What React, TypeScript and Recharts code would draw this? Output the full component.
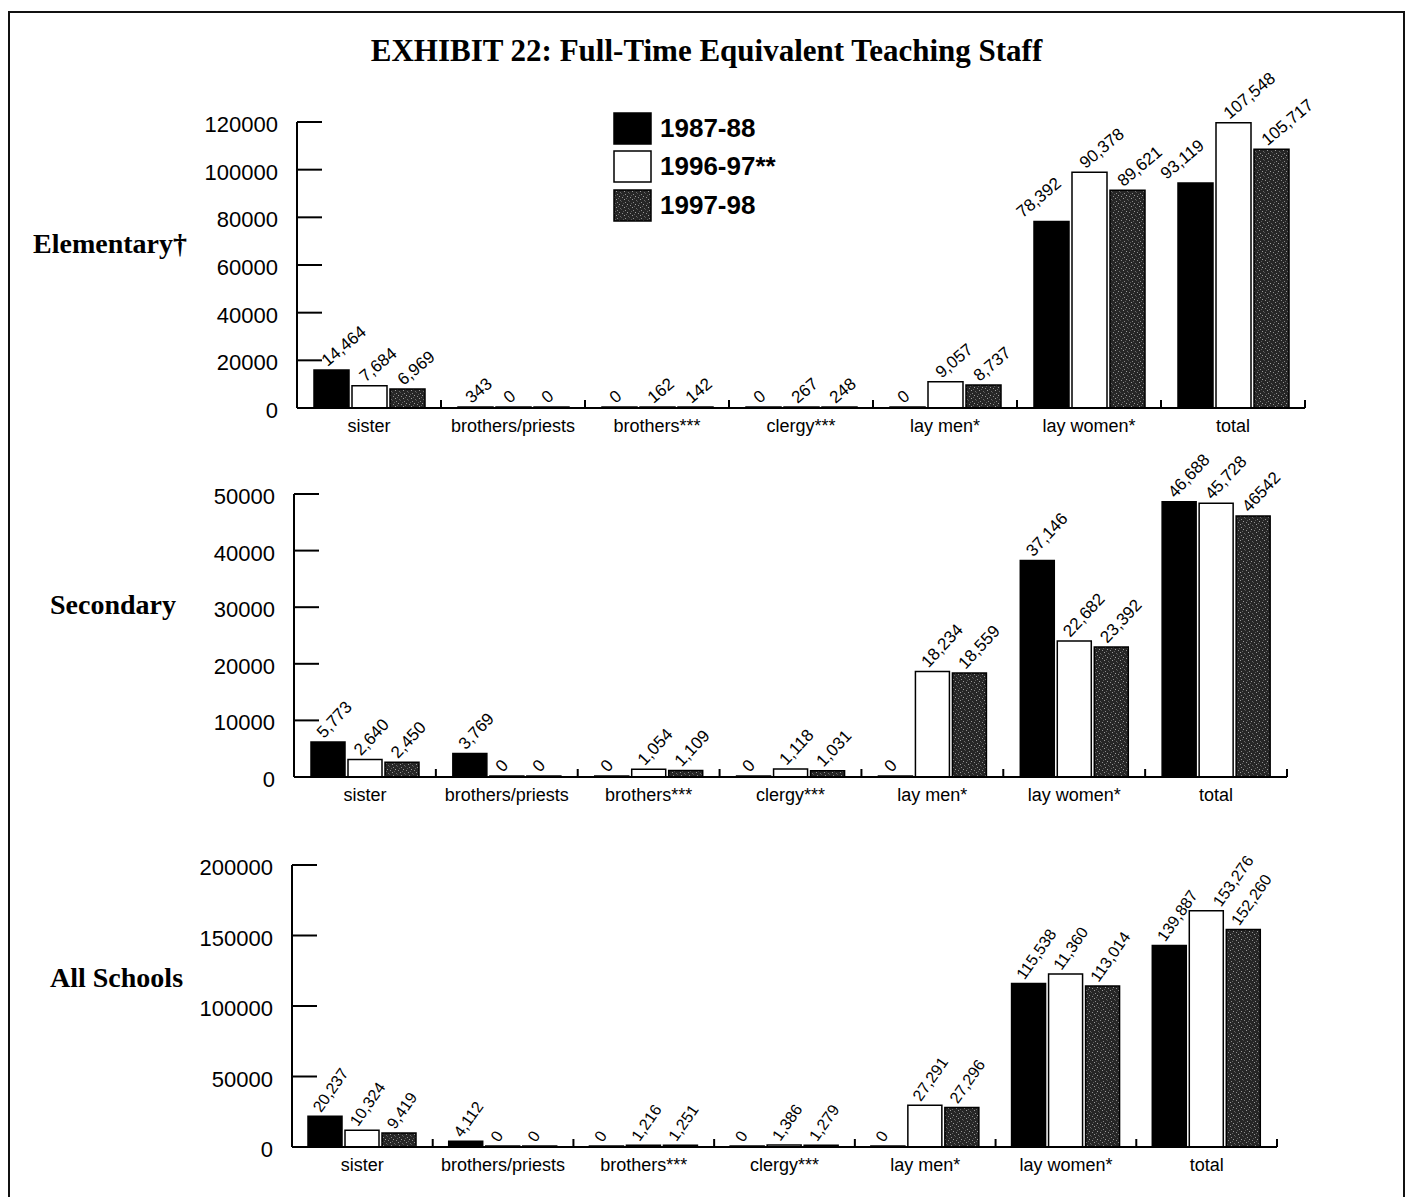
import React from 'react'
import { BarChart, Bar, XAxis, YAxis, LabelList, Legend } from 'recharts'

const CATEGORIES = ['sister', 'brothers/priests', 'brothers***', 'clergy***', 'lay men*', 'lay women*', 'total']
const SERIES = ['1987-88', '1996-97**', '1997-98']

// bar heights as they are drawn in the exhibit
const ELEM_8788 = [15950, 343, 0, 0, 0, 78200, 94400]
const ELEM_9697 = [9360, 0, 162, 267, 11030, 98900, 119700]
const ELEM_9798 = [7970, 0, 142, 248, 9650, 91340, 108540]

// printed value labels
const ELEM_LBL_8788 = ['14,464', '343', '0', '0', '0', '78,392', '93,119']
const ELEM_LBL_9697 = ['7,684', '0', '162', '267', '9,057', '90,378', '107,548']
const ELEM_LBL_9798 = ['6,969', '0', '142', '248', '8,737', '89,621', '105,717']

const SEC_8788 = [6190, 4140, 0, 0, 0, 38270, 48640]
const SEC_9697 = [3080, 0, 1360, 1400, 18640, 24050, 48350]
const SEC_9798 = [2600, 0, 1130, 1100, 18390, 22990, 46110]

const SEC_LBL_8788 = ['5,773', '3,769', '0', '0', '0', '37,146', '46,688']
const SEC_LBL_9697 = ['2,640', '0', '1,054', '1,118', '18,234', '22,682', '45,728']
const SEC_LBL_9798 = ['2,450', '0', '1,109', '1,031', '18,559', '23,392', '46542']

const ALL_8788 = [21850, 4060, 0, 0, 0, 116000, 142850]
const ALL_9697 = [11890, 0, 1216, 1386, 29680, 122700, 167550]
const ALL_9798 = [9960, 0, 1251, 1279, 28040, 114160, 154240]

const ALL_LBL_8788 = ['20,237', '4,112', '0', '0', '0', '115,538', '139,887']
const ALL_LBL_9697 = ['10,324', '0', '1,216', '1,386', '27,291', '11,360', '153,276']
const ALL_LBL_9798 = ['9,419', '0', '1,251', '1,279', '27,296', '113,014', '152,260']

const ELEM_TICKS = [0, 20000, 40000, 60000, 80000, 100000, 120000]
const SEC_TICKS = [0, 10000, 20000, 30000, 40000, 50000]
const ALL_TICKS = [0, 50000, 100000, 150000, 200000]

const SANS = '"Liberation Sans", Arial, Helvetica, sans-serif'
const SERIF = '"Liberation Serif", "Times New Roman", serif'
const FILLS = ['#000000', '#ffffff', 'url(#speckle)']
const BAR_GAP = 3
const GLYPH_H = 12

function buildRows(values: number[][], labels: string[][]) {
  return CATEGORIES.map((cat, i) => ({
    cat,
    v0: values[0][i],
    v1: values[1][i],
    v2: values[2][i],
    l0: labels[0][i],
    l1: labels[1][i],
    l2: labels[2][i],
  }))
}

const elemRows = buildRows([ELEM_8788, ELEM_9697, ELEM_9798], [ELEM_LBL_8788, ELEM_LBL_9697, ELEM_LBL_9798])
const secRows = buildRows([SEC_8788, SEC_9697, SEC_9798], [SEC_LBL_8788, SEC_LBL_9697, SEC_LBL_9798])
const allRows = buildRows([ALL_8788, ALL_9697, ALL_9798], [ALL_LBL_8788, ALL_LBL_9697, ALL_LBL_9798])

function textWidth(s: string, fs: number) {
  let w = 0
  for (const ch of s) w += ch === ',' ? 0.278 : 0.556
  return w * fs
}

// where the slanted label of series s sits, nudged so it clears its neighbours
function placeLabel(s: number, row: any, barX: number, width: number, base: number, k: number, angle: number, fs: number): any {
  const rad = (angle * Math.PI) / 180
  const sin = Math.sin(rad)
  const cos = Math.cos(rad)
  const tan = Math.tan(rad)
  const label = String(row[`l${s}`])
  const L = textWidth(label, fs)
  const top = base - Math.max(row[`v${s}`] * k, 1)
  const ty = top - 3
  let tx = barX + width / 2 - 4
  const ext = L * cos + GLYPH_H * sin

  if (s < 2) {
    const nextTop = base - Math.max(row[`v${s + 1}`] * k, 1)
    const nextLeft = barX + width + BAR_GAP
    const crosses = (t: number) => t + ext > nextLeft && ty - tan * (nextLeft - t) > nextTop - 2
    if (crosses(tx)) {
      const endBefore = nextLeft - ext - 2
      const passAbove = nextLeft - (ty - nextTop + 2) / tan
      const t1 = Math.max(endBefore, barX - 2)
      tx = crosses(t1) ? Math.max(endBefore, passAbove) : t1
    }
  }
  if (s > 0) {
    const prev = placeLabel(s - 1, row, barX - width - BAR_GAP, width, base, k, angle, fs)
    const prevEndY = prev.ty - prev.L * sin
    const prevRight = prev.tx + prev.L * cos + GLYPH_H * sin
    if (prevEndY > ty - GLYPH_H * cos - 6 && prevRight > tx - GLYPH_H * sin - 2) {
      tx = prev.tx + prev.L * cos + 2 * GLYPH_H * sin + 3
    }
  }
  return { tx, ty, L, label }
}

function YTick(props: any) {
  const { x, y, payload } = props
  return (
    <g>
      <line x1={x} x2={x + 25} y1={y} y2={y} stroke="#000" strokeWidth={2} />
      <text x={x - 19} y={y + 10} textAnchor="end" fontSize={22} fontFamily={SANS} fill="#000">
        {payload.value}
      </text>
    </g>
  )
}

function XTick(props: any) {
  const { x, y, payload, band } = props
  const edge = x + band / 2
  return (
    <g>
      <line x1={edge} x2={edge} y1={y} y2={y - 8} stroke="#000" strokeWidth={2} />
      <text x={x} y={y + 24} textAnchor="middle" fontSize={18} fontFamily={SANS} fill="#000">
        {payload.value}
      </text>
    </g>
  )
}

function ValueLabel(props: any) {
  const { series, rows, k, angle, fs } = props
  const vb = props.viewBox ?? {}
  const x = props.x ?? vb.x
  const y = props.y ?? vb.y
  const width = props.width ?? vb.width
  const height = props.height ?? vb.height ?? 0
  const row = rows[props.index]
  if (!row) return null
  const { tx, ty } = placeLabel(series, row, x, width, y + height, k, angle, fs)
  return (
    <text x={tx} y={ty} transform={`rotate(${-angle} ${tx} ${ty})`} fontSize={fs} fontFamily={SANS} fill="#000">
      {String(props.value)}
    </text>
  )
}

function LegendBox(props: any) {
  const items = props.payload ?? []
  return (
    <div>
      {items.map((e: any) => (
        <div key={e.value} style={{ display: 'flex', alignItems: 'center', height: 38.5 }}>
          <svg width={39} height={33} style={{ display: 'block' }}>
            <rect x={1} y={1} width={37} height={31} fill={e.color} stroke="#000" strokeWidth={1.5} />
          </svg>
          <span style={{ marginLeft: 8, font: `bold 26px ${SANS}`, color: '#000', whiteSpace: 'nowrap' }}>
            {e.value}
          </span>
        </div>
      ))}
    </div>
  )
}

interface PanelProps {
  rows: any[]
  max: number
  ticks: number[]
  left: number
  top: number
  width: number
  height: number
  marginTop: number
  barSize: number
  angle: number
  fs: number
  legend?: boolean
}

function Panel({ rows, max, ticks, left, top, width, height, marginTop, barSize, angle, fs, legend }: PanelProps) {
  const yAxisWidth = 97
  const marginRight = 15
  const xAxisHeight = 30
  const marginBottom = 2
  const band = (width - yAxisWidth - marginRight) / CATEGORIES.length
  const plotHeight = height - marginTop - xAxisHeight - marginBottom
  const k = plotHeight / max
  return (
    <div style={{ position: 'absolute', left, top }}>
      <BarChart
        width={width}
        height={height}
        data={rows}
        margin={{ top: marginTop, right: marginRight, bottom: marginBottom, left: 0 }}
        barGap={BAR_GAP}
        style={{ overflow: 'visible' }}
      >
        <XAxis
          dataKey="cat"
          height={xAxisHeight}
          axisLine={{ stroke: '#000', strokeWidth: 2 }}
          tickLine={false}
          tickSize={0}
          tickMargin={0}
          interval={0}
          tick={(p: any) => <XTick {...p} band={band} />}
        />
        <YAxis
          width={yAxisWidth}
          domain={[0, max]}
          ticks={ticks}
          allowDataOverflow
          axisLine={{ stroke: '#000', strokeWidth: 2 }}
          tickLine={false}
          tickSize={0}
          tickMargin={0}
          interval={0}
          tick={(p: any) => <YTick {...p} />}
        />
        {legend && (
          <Legend
            layout="horizontal"
            verticalAlign="middle"
            align="center"
            wrapperStyle={{ left: 413, top: 49, width: 'auto', height: 'auto' }}
            content={(p: any) => <LegendBox {...p} />}
          />
        )}
        {SERIES.map((name, i) => (
          <Bar
            key={name}
            dataKey={`v${i}`}
            name={name}
            fill={FILLS[i]}
            stroke="#000"
            strokeWidth={1.5}
            barSize={barSize}
            minPointSize={1}
            isAnimationActive={false}
          >
            <LabelList
              dataKey={`l${i}`}
              content={(p: any) => <ValueLabel {...p} series={i} rows={rows} k={k} angle={angle} fs={fs} />}
            />
          </Bar>
        ))}
      </BarChart>
    </div>
  )
}

export default function App() {
  return (
    <div style={{ position: 'absolute', left: 0, top: 0, width: 1409, height: 1197, overflow: 'hidden', background: '#fff' }}>
      <svg width={0} height={0} style={{ position: 'absolute' }}>
        <defs>
          <pattern id="speckle" width={8} height={8} patternUnits="userSpaceOnUse">
            <rect width={8} height={8} fill="#262626" />
            <rect x={1} y={0} width={1} height={1} fill="#8c8c8c" />
            <rect x={5} y={1} width={1} height={1} fill="#5e5e5e" />
            <rect x={3} y={2} width={1} height={1} fill="#9a9a9a" />
            <rect x={7} y={3} width={1} height={1} fill="#6a6a6a" />
            <rect x={0} y={4} width={1} height={1} fill="#505050" />
            <rect x={4} y={5} width={1} height={1} fill="#8a8a8a" />
            <rect x={2} y={6} width={1} height={1} fill="#5a5a5a" />
            <rect x={6} y={7} width={1} height={1} fill="#9e9e9e" />
          </pattern>
        </defs>
      </svg>

      <div
        style={{
          position: 'absolute',
          left: 8,
          top: 11,
          width: 1397,
          height: 1260,
          border: '2px solid #111',
          boxSizing: 'border-box',
        }}
      />

      <div
        style={{
          position: 'absolute',
          left: 8,
          top: 35,
          width: 1397,
          textAlign: 'center',
          font: `bold 31px ${SERIF}`,
          lineHeight: '31px',
          color: '#000',
        }}
      >
        EXHIBIT 22: Full-Time Equivalent Teaching Staff
      </div>

      <div style={{ position: 'absolute', left: 33, top: 230, font: `bold 28px ${SERIF}`, lineHeight: '28px', color: '#000' }}>
        Elementary†
      </div>
      <div style={{ position: 'absolute', left: 50, top: 591, font: `bold 28px ${SERIF}`, lineHeight: '28px', color: '#000' }}>
        Secondary
      </div>
      <div style={{ position: 'absolute', left: 50, top: 964, font: `bold 28px ${SERIF}`, lineHeight: '28px', color: '#000' }}>
        All Schools
      </div>

      <Panel rows={elemRows} max={120000} ticks={ELEM_TICKS} left={200} top={60} width={1120} height={380} marginTop={62} barSize={35} angle={40} fs={17} legend />
      <Panel rows={secRows} max={50000} ticks={SEC_TICKS} left={197} top={450} width={1105} height={359} marginTop={44} barSize={34} angle={47} fs={17} />
      <Panel rows={allRows} max={200000} ticks={ALL_TICKS} left={195} top={820} width={1097} height={359} marginTop={45} barSize={34} angle={55} fs={16} />
    </div>
  )
}
